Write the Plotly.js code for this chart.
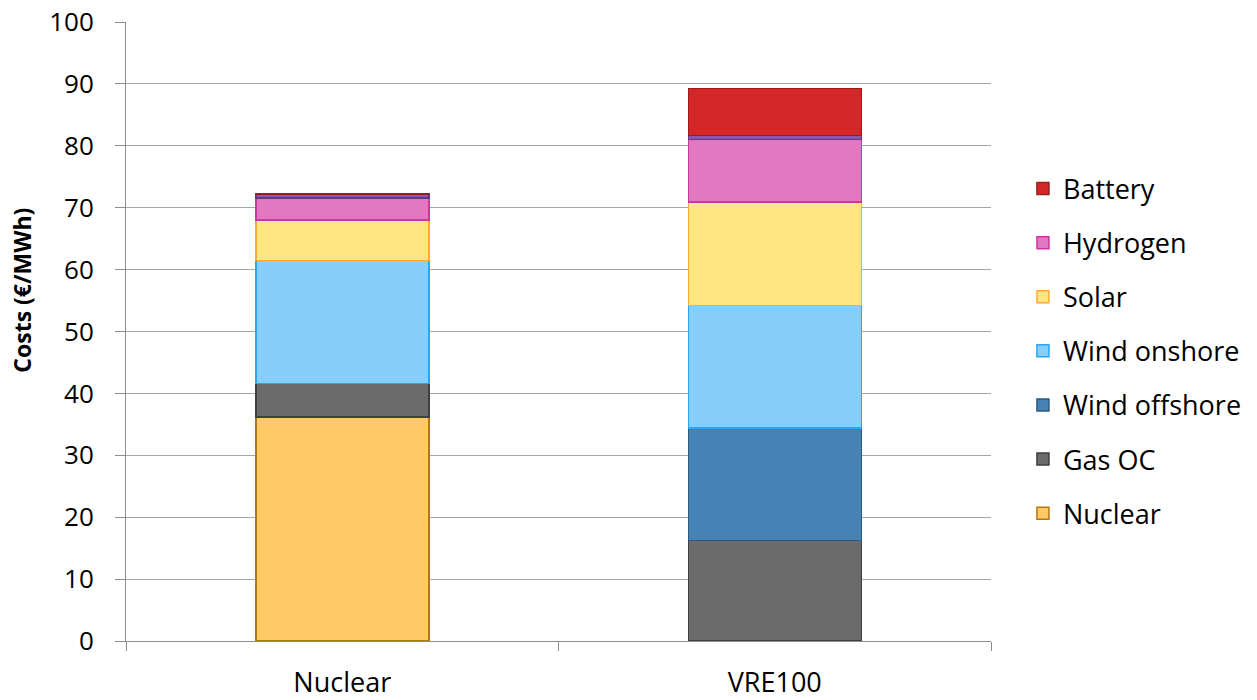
<!DOCTYPE html>
<html>
<head>
<meta charset="utf-8">
<script src="https://cdn.plot.ly/plotly-3.0.1.min.js"></script>
<style>
  html, body { margin: 0; padding: 0; background: #ffffff; }
  #chart { width: 1257px; height: 700px; }
</style>
</head>
<body>
<div id="chart"></div>
<script>
// System cost breakdown per scenario (€/MWh)
const scenarios = ['Nuclear', 'VRE100'];

const nuclear      = [36.2, 0];
const gasOC        = [5.4, 16.2];
const windOffshore = [0, 18.2];
const windOnshore  = [19.9, 19.8];
const solar        = [6.5, 16.7];
const hydrogen     = [3.6, 10.1];
const storage      = [0.65, 0.65];
const battery      = [0, 7.6];

const yTicks = [0, 10, 20, 30, 40, 50, 60, 70, 80, 90, 100];

// legend lists the top of the stack first
function barTrace(name, values, fill, edge, rank, inLegend) {
  return {
    type: 'bar',
    name: name,
    x: scenarios,
    y: values,
    marker: { color: fill, line: { color: edge, width: 1.5 } },
    legendgroup: name,
    legendrank: rank,
    showlegend: inLegend,
    hoverinfo: 'name+y'
  };
}

const traces = [
  barTrace('Nuclear', nuclear, '#FFC966', '#B07A12', 7, true),
  barTrace('Gas OC', gasOC, '#6B6B6B', '#3F3F3F', 6, true),
  barTrace('Wind offshore', windOffshore, '#4682B4', '#2E5A80', 5, true),
  barTrace('Wind onshore', windOnshore, '#87CEFA', '#22A8F5', 4, true),
  barTrace('Solar', solar, '#FFE680', '#FFAA33', 3, true),
  barTrace('Hydrogen', hydrogen, '#E279C0', '#C9379F', 2, true),
  barTrace('Storage', storage, '#8A56AE', '#5E3A82', 8, false),
  barTrace('Battery', battery, '#D62728', '#9A1C1D', 1, true)
];

const layout = {
  width: 1257,
  height: 700,
  margin: { l: 126, r: 266, t: 22, b: 59, pad: 0 },
  paper_bgcolor: '#ffffff',
  plot_bgcolor: '#ffffff',
  barmode: 'stack',
  bargap: 0.6,
  font: { family: 'Open Sans, sans-serif', color: '#000000', size: 27 },
  showlegend: true,
  legend: {
    xref: 'container',
    yref: 'container',
    x: 0.8138,
    xanchor: 'left',
    y: 0.765,
    yanchor: 'top',
    maxheight: 1,
    traceorder: 'grouped',
    tracegroupgap: 16,
    font: { family: 'Open Sans, sans-serif', size: 27, color: '#000000' },
    bgcolor: 'rgba(0,0,0,0)',
    itemwidth: 30
  },
  xaxis: {
    type: 'category',
    showline: true,
    linecolor: '#8C8C8C',
    linewidth: 1,
    ticks: 'outside',
    tickson: 'boundaries',
    ticklen: 9,
    tickcolor: '#8C8C8C',
    ticklabelstandoff: 18,
    tickfont: { family: 'Open Sans, sans-serif', size: 27, color: '#000000' },
    showgrid: false,
    zeroline: false,
    fixedrange: true
  },
  yaxis: {
    range: [0, 100],
    tickvals: yTicks,
    ticktext: yTicks.map(String),
    showline: true,
    linecolor: '#8C8C8C',
    linewidth: 1,
    ticks: 'outside',
    ticklen: 10,
    tickcolor: '#8C8C8C',
    ticklabelstandoff: 16,
    tickfont: { family: 'Open Sans, sans-serif', size: 26, color: '#000000' },
    showgrid: true,
    gridcolor: '#A6A6A6',
    gridwidth: 1,
    zeroline: false,
    automargin: false,
    fixedrange: true
  },
  annotations: [{
    text: '<b>Costs (€/MWh)</b>',
    xref: 'paper',
    yref: 'paper',
    x: -0.1202,
    y: 0.566,
    xanchor: 'center',
    yanchor: 'middle',
    textangle: -90,
    showarrow: false,
    font: { family: 'Open Sans, sans-serif', size: 23, color: '#000000' }
  }]
};

Plotly.newPlot('chart', traces, layout, { displayModeBar: false, staticPlot: true });
</script>
</body>
</html>
